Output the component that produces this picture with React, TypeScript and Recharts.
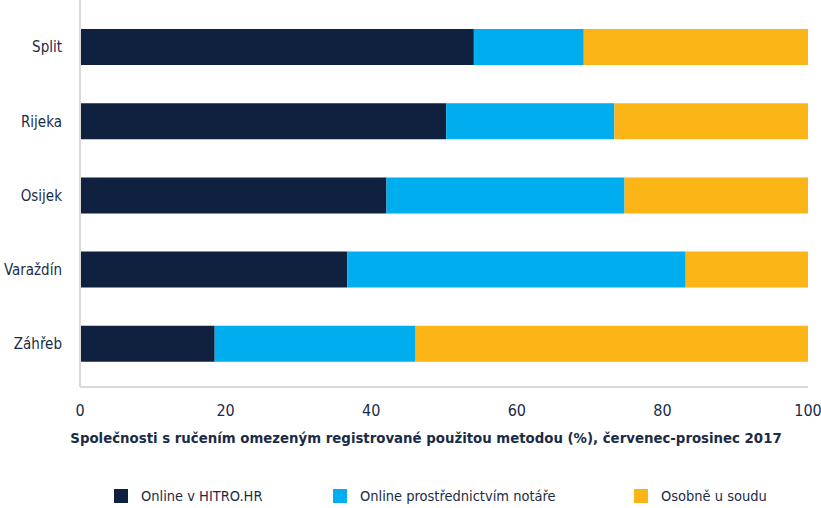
import { BarChart, Bar, XAxis, YAxis, Legend } from 'recharts';

const cities = ['Split', 'Rijeka', 'Osijek', 'Varaždín', 'Záhřeb'];
const hitro = [54.1, 50.3, 42.1, 36.7, 18.5];
const notary = [15.1, 23.1, 32.7, 46.5, 27.6];
const court = [30.8, 26.6, 25.2, 16.8, 53.9];
const xTicks = [0, 20, 40, 60, 80, 100];

const seriesNames = ['Online v HITRO.HR', 'Online prostřednictvím notáře', 'Osobně u soudu'];
const colors = ['#0f213e', '#00adef', '#fbb517'];
const legendLeft = [114, 333, 634];

const textColor = '#1b2b47';
const font = '"DejaVu Sans Condensed", "Open Sans", sans-serif';

const data = cities.map((city, i) => ({
    city,
    hitro: hitro[i],
    notary: notary[i],
    court: court[i],
}));

// legend drawn by hand so the spacing matches
const renderLegend = () => (
    <div
        style={{
            position: 'relative',
            fontFamily: font,
            fontSize: 14.5,
            color: textColor,
            whiteSpace: 'nowrap',
            width: 821,
            height: 49,
        }}
    >
        {seriesNames.map((name, i) => (
            <div
                key={name}
                style={{ position: 'absolute', left: legendLeft[i], top: 29, display: 'flex', alignItems: 'center' }}
            >
                <span style={{ width: 14, height: 14, background: colors[i], marginRight: 13, display: 'inline-block' }} />
                <span>{name}</span>
            </div>
        ))}
    </div>
);

export default function App() {
    return (
        <div style={{ width: 821, height: 508, background: '#fff' }}>
            <style>{'body{margin:0}'}</style>
            <BarChart
                width={821}
                height={508}
                data={data}
                layout="vertical"
                margin={{ top: 0, right: 13, left: 0, bottom: 0 }}
                barSize={36}
            >
                <XAxis
                    type="number"
                    domain={[0, 100]}
                    ticks={xTicks}
                    tickLine={false}
                    axisLine={{ stroke: '#d9d9d9', strokeWidth: 2 }}
                    tick={{ fill: textColor, fontSize: 16, fontFamily: font }}
                    tickMargin={12}
                    height={72}
                    label={{
                        value: 'Společnosti s ručením omezeným registrované použitou metodou (%), červenec-prosinec 2017',
                        position: 'insideBottom',
                        offset: 16,
                        dx: -18,
                        fill: textColor,
                        fontSize: 14.8,
                        fontWeight: 'bold',
                        fontFamily: font,
                    }}
                />
                <YAxis
                    type="category"
                    dataKey="city"
                    width={80}
                    tickLine={false}
                    axisLine={{ stroke: '#d9d9d9', strokeWidth: 2 }}
                    tick={{ fill: textColor, fontSize: 15, fontFamily: font }}
                    tickMargin={12}
                    padding={{ top: 10, bottom: 6 }}
                />
                <Legend verticalAlign="bottom" height={49} content={renderLegend} />
                <Bar dataKey="hitro" stackId="a" fill={colors[0]} name={seriesNames[0]} isAnimationActive={false} />
                <Bar dataKey="notary" stackId="a" fill={colors[1]} name={seriesNames[1]} isAnimationActive={false} />
                <Bar dataKey="court" stackId="a" fill={colors[2]} name={seriesNames[2]} isAnimationActive={false} />
            </BarChart>
        </div>
    );
}
